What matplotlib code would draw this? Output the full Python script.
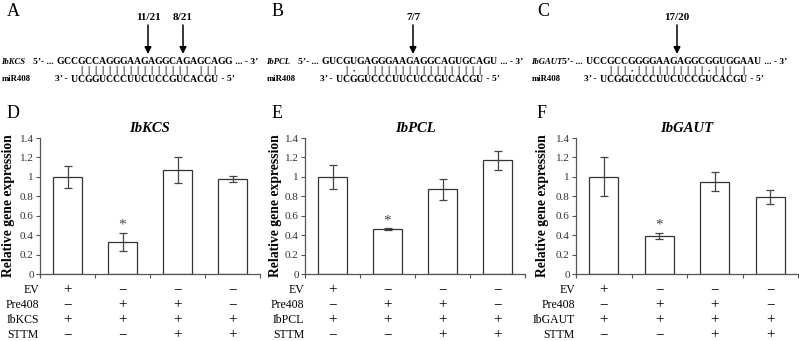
import numpy as np
import matplotlib
matplotlib.use('Agg')
import matplotlib.pyplot as plt
from matplotlib.transforms import blended_transform_factory

plt.rcParams['font.family'] = ['Liberation Serif', 'DejaVu Serif']

# ---- top panels: miR408 target sites
genes = ['IbKCS', 'IbPCL', 'IbGAUT']
targets = ['GCCGCCAGGGAAGAGGCAGAGCAGG',
           'GUCGUGAGGGAAGAGGCAGUGCAGU',
           'UCCGCCGGGGAAGAGGCGGUGGAAU']
mir408 = 'UCGGUCCCUUCUCCGUCACGU'
pairing = [' ' + '|' * 16 + ' ' + '|||',
           ' |. ' + '|' * 17,
           ' |||.' + '|' * 10 + '.||| |']
cleavage = [[(13, '11/21'), (18, '8/21')],
            [(13, '7/7')],
            [(13, '17/20')]]

# ---- bottom panels: qRT-PCR
conditions = ['EV', 'Pre408', 'gene', 'STTM']
signs = [['+', '−', '−', '−'],
         ['−', '+', '+', '−'],
         ['+', '+', '+', '+'],
         ['−', '−', '+', '+']]
expr = [[1.0, 0.33, 1.07, 0.98],
        [1.0, 0.46, 0.87, 1.17],
        [1.0, 0.39, 0.95, 0.79]]
expr_err = [[0.11, 0.09, 0.13, 0.03],
            [0.12, 0.01, 0.11, 0.10],
            [0.20, 0.03, 0.10, 0.07]]
significant = [1]

W, H = 799, 341
fig = plt.figure(figsize=(W / 100, H / 100), dpi=100)
ax0 = fig.add_axes([0, 0, 1, 1])
ax0.set_xlim(0, W)
ax0.set_ylim(H, 0)
ax0.axis('off')

top_letters = ['A', 'B', 'C']
offsets = [0, 265, 530]
pitch = 7.0
for k in range(3):
    o = offsets[k]
    start = o + 57 if k < 2 else o + 56
    ax0.text(o + 7, 12, top_letters[k], fontsize=13, va='center', ha='left')
    ax0.text(o + 1.5, 62, genes[k], fontsize=6.2, fontweight='bold', style='italic', va='center')
    ax0.text(o + 2, 79, 'miR408', fontsize=6.3, fontweight='bold', va='center')
    ax0.text(start - 1, 62, '5’- ... ', fontsize=6.8, fontweight='bold', va='center', ha='right')
    for i, ch in enumerate(targets[k]):
        ax0.text(start + pitch / 2 + pitch * i, 62, ch, fontsize=7, fontweight='bold',
                 va='center', ha='center')
    end = start + pitch * len(targets[k])
    ax0.text(end + 1, 62, ' ... - 3’', fontsize=6.8, fontweight='bold', va='center', ha='left')
    m0 = start + pitch / 2 + pitch * 2
    for p, ch in enumerate(mir408):
        ax0.text(m0 + pitch * p, 79, ch, fontsize=7, fontweight='bold', va='center', ha='center')
        s = pairing[k][p]
        if s == '|':
            ax0.text(m0 + pitch * p, 70.5, '|', fontsize=7.5, fontweight='bold',
                     va='center', ha='center')
        elif s == '.':
            ax0.text(m0 + pitch * p, 70.5, '•', fontsize=5, va='center', ha='center')
    ax0.text(m0 - pitch / 2 - 1, 79, '3’ - ', fontsize=6.8, fontweight='bold', va='center', ha='right')
    ax0.text(m0 + pitch * 20 + pitch / 2 + 1, 79, ' - 5’', fontsize=6.8, fontweight='bold',
             va='center', ha='left')
    for pos, lab in cleavage[k]:
        xa = start + pitch * pos
        ax0.annotate('', xy=(xa, 54), xytext=(xa, 25),
                     arrowprops=dict(arrowstyle='-|>', color='black', lw=1.1,
                                     mutation_scale=10, shrinkA=0, shrinkB=0))
        ax0.text(xa, 17, lab, fontsize=8, fontweight='bold', ha='center', va='center')

# ---- bar charts
bot_letters = ['D', 'E', 'F']
axes_px = [(40, 260), (305, 525), (576, 798)]
y_top, y_bot = 138, 274
row_y = [290, 305, 320, 335]
ylabel_x = [15, 282, 549]
x = np.arange(4)
for k in range(3):
    x0, x1 = axes_px[k]
    ax = fig.add_axes([x0 / W, (H - y_bot) / H, (x1 - x0) / W, (y_bot - y_top) / H])
    ax.patch.set_alpha(0)
    ax.bar(x, expr[k], width=0.53, color='white', edgecolor='#333333', linewidth=0.9,
           yerr=expr_err[k],
           error_kw=dict(ecolor='#444444', elinewidth=0.9, capsize=3, capthick=0.9))
    for i in significant:
        ax.text(x[i], expr[k][i] + expr_err[k][i] + 0.08, '*', ha='center', va='center',
                fontsize=11, color='#444444')
    ax.set_xlim(-0.5, 3.5)
    ax.set_ylim(0, 1.4)
    yt = np.arange(0, 1.41, 0.2)
    ax.set_yticks(yt)
    ax.set_yticklabels(['%g' % round(v, 1) for v in yt], fontsize=8, color='#333333')
    ax.set_xticks([-0.5, 0.5, 1.5, 2.5, 3.5])
    ax.set_xticklabels([])
    ax.tick_params(length=3, width=0.8, color='#555555', pad=1.5)
    for sp in ['top', 'right']:
        ax.spines[sp].set_visible(False)
    for sp in ['left', 'bottom']:
        ax.spines[sp].set_color('#555555')
        ax.spines[sp].set_linewidth(0.9)
    ax.set_title(genes[k], fontsize=10.5, fontweight='bold', style='italic', pad=4)
    ax.set_ylabel('Relative gene expression', fontsize=9.8, fontweight='bold')
    ax.yaxis.set_label_coords((ylabel_x[k] - x0) / (x1 - x0), 0.5)
    ax0.text(offsets[k] + 7, 114, bot_letters[k], fontsize=13, va='center', ha='left')

    tr = blended_transform_factory(ax.transData, ax0.transData)
    for r, cond in enumerate(conditions):
        lab = genes[k] if cond == 'gene' else cond
        ax0.text(x0 - 1, row_y[r], lab, fontsize=8.5, ha='right', va='center')
        for i in range(4):
            ax.text(x[i], row_y[r], signs[r][i], transform=tr, fontsize=11,
                    ha='center', va='center', clip_on=False)

fig.savefig('out.png', dpi=100)
